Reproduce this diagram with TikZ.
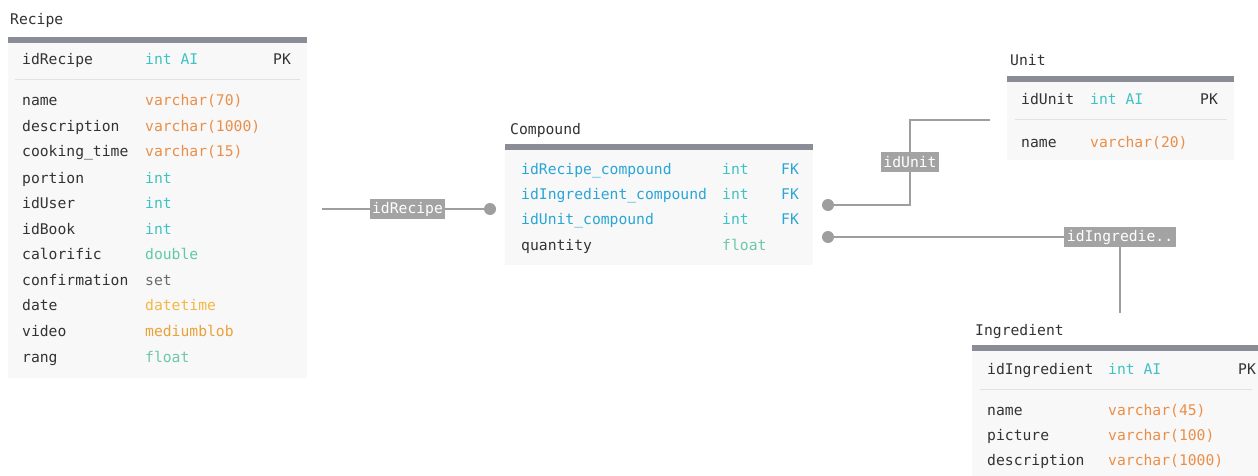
\documentclass[tikz,border=0pt]{standalone}
\usepackage{fontspec}
\setmonofont{DejaVu Sans Mono}
\definecolor{bar}{HTML}{8A8C96}
\definecolor{body}{HTML}{F8F8F8}
\definecolor{sep}{HTML}{E2E2E2}
\definecolor{tint}{HTML}{3EC2C6}
\definecolor{tvar}{HTML}{EA8F4A}
\definecolor{tdbl}{HTML}{5ECBA6}
\definecolor{tset}{HTML}{6A6A6A}
\definecolor{tdate}{HTML}{F2B845}
\definecolor{tblob}{HTML}{E9A23A}
\definecolor{tflt}{HTML}{6CC9A8}
\definecolor{fk}{HTML}{2AA6D6}
\definecolor{txt}{HTML}{333333}
\definecolor{conn}{HTML}{9E9E9E}
\definecolor{lbl}{HTML}{A3A3A3}
\tikzset{
  f/.style={font=\ttfamily\fontsize{14.7pt}{16pt}\selectfont, inner sep=0pt, anchor=base west, text=txt},
  ttl/.style={f},
  tbar/.style={fill=bar, draw=none},
  tbody/.style={fill=body, draw=none},
  sepl/.style={draw=sep, line width=1pt},
  cline/.style={draw=conn, line width=1.6pt},
  dotc/.style={circle, fill=conn, minimum size=12pt, inner sep=0pt},
  lab/.style={fill=lbl, text=white, font=\ttfamily\fontsize{14.7pt}{16pt}\selectfont, inner xsep=2.5pt, inner ysep=2pt, minimum height=20pt},
}
\begin{document}
\begin{tikzpicture}[x=1pt,y=-1pt]
\useasboundingbox (0,0) rectangle (1258,476);
\fill[white] (0,0) rectangle (1258,476);
% ---------- Recipe ----------
\fill[tbody] (8,42) rectangle (307,378);
\fill[tbar] (8,37) rectangle (307,43);
\node[ttl] (recT) at (10,25) {Recipe};
\node[f] (r0a) at (22,65) {idRecipe};
\node[f,text=tint] (r0b) at (145,65) {int AI};
\node[f] (r0c) at (273,65) {PK};
\draw[sepl] (15,80) -- (300,80);
\node[f] (r1a) at (22,106) {name};
\node[f,text=tvar] (r1b) at (145,106) {varchar(70)};
\node[f] (r2a) at (22,131.5) {description};
\node[f,text=tvar] (r2b) at (145,131.5) {varchar(1000)};
\node[f] (r3a) at (22,157) {cooking\_time};
\node[f,text=tvar] (r3b) at (145,157) {varchar(15)};
\node[f] (r4a) at (22,183) {portion};
\node[f,text=tint] (r4b) at (145,183) {int};
\node[f] (r5a) at (22,208) {idUser};
\node[f,text=tint] (r5b) at (145,208) {int};
\node[f] (r6a) at (22,234) {idBook};
\node[f,text=tint] (r6b) at (145,234) {int};
\node[f] (r7a) at (22,259.5) {calorific};
\node[f,text=tdbl] (r7b) at (145,259.5) {double};
\node[f] (r8a) at (22,285) {confirmation};
\node[f,text=tset] (r8b) at (145,285) {set};
\node[f] (r9a) at (22,310.5) {date};
\node[f,text=tdate] (r9b) at (145,310.5) {datetime};
\node[f] (r10a) at (22,336) {video};
\node[f,text=tblob] (r10b) at (145,336) {mediumblob};
\node[f] (r11a) at (22,362) {rang};
\node[f,text=tflt] (r11b) at (145,362) {float};
% ---------- Compound ----------
\fill[tbody] (505,150) rectangle (813,265);
\fill[tbar] (505,144) rectangle (813,150);
\node[ttl] (comT) at (510,135) {Compound};
\node[f,text=fk] (c1a) at (521,174) {idRecipe\_compound};
\node[f,text=tint] (c1b) at (722,174) {int};
\node[f,text=fk] (c1c) at (781,174) {FK};
\node[f,text=fk] (c2a) at (521,199) {idIngredient\_compound};
\node[f,text=tint] (c2b) at (722,199) {int};
\node[f,text=fk] (c2c) at (781,199) {FK};
\node[f,text=fk] (c3a) at (521,224.5) {idUnit\_compound};
\node[f,text=tint] (c3b) at (722,224.5) {int};
\node[f,text=fk] (c3c) at (781,224.5) {FK};
\node[f] (c4a) at (521,250) {quantity};
\node[f,text=tflt] (c4b) at (722,250) {float};
% ---------- Unit ----------
\fill[tbody] (1007,82) rectangle (1234,160);
\fill[tbar] (1007,76) rectangle (1234,82);
\node[ttl] (unT) at (1010,66) {Unit};
\node[f] (u1a) at (1021,105) {idUnit};
\node[f,text=tint] (u1b) at (1090,105) {int AI};
\node[f] (u1c) at (1200,105) {PK};
\draw[sepl] (1015,120) -- (1227,120);
\node[f] (u2a) at (1021,147) {name};
\node[f,text=tvar] (u2b) at (1090,147) {varchar(20)};
% ---------- Ingredient ----------
\fill[tbody] (972,351) rectangle (1258,476);
\fill[tbar] (972,345) rectangle (1258,351);
\node[ttl] (ingT) at (975,335) {Ingredient};
\node[f] (i1a) at (987,374) {idIngredient};
\node[f,text=tint] (i1b) at (1108,374) {int AI};
\node[f] (i1c) at (1238,374) {PK};
\draw[sepl] (980,389) -- (1252,389);
\node[f] (i2a) at (987,415) {name};
\node[f,text=tvar] (i2b) at (1108,415) {varchar(45)};
\node[f] (i3a) at (987,440) {picture};
\node[f,text=tvar] (i3b) at (1108,440) {varchar(100)};
\node[f] (i4a) at (987,465.5) {description};
\node[f,text=tvar] (i4b) at (1108,465.5) {varchar(1000)};
% ---------- Connectors ----------
\coordinate (recOut) at (322,209);
\node[dotc] (d1) at (490,209) {};
\draw[cline] (recOut) -- (d1.center);
\node[lab] (l1) at (407.5,209) {idRecipe};
\node[dotc] (d2) at (828,205) {};
\coordinate (u1) at (910,205);
\coordinate (u2) at (910,120);
\coordinate (unitIn) at (990,120);
\draw[cline] (d2.center) -- (u1) -- (u2) -- (unitIn);
\node[lab] (l2) at (910,162) {idUnit};
\node[dotc] (d3) at (828,237) {};
\coordinate (g1) at (1120,237);
\coordinate (ingIn) at (1120,313);
\draw[cline] (d3.center) -- (g1) -- (ingIn);
\node[lab] (l3) at (1120,237) {idIngredie..};
\end{tikzpicture}
\end{document}
